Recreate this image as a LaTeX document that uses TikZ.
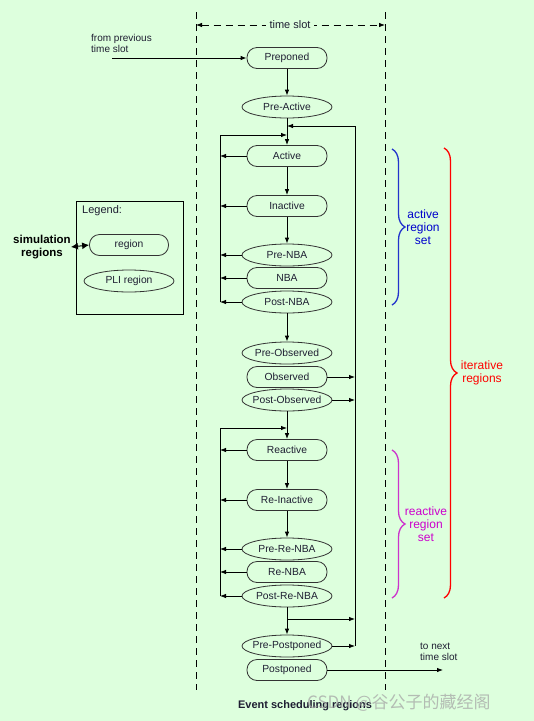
\documentclass[tikz,border=0pt]{standalone}
\usepackage{fontspec}
\setmainfont{Liberation Sans}
\newfontfamily\cjkfont{Noto Sans CJK SC}
\usetikzlibrary{arrows.meta,shapes.geometric,decorations.pathreplacing}
\definecolor{bg}{RGB}{221,255,221}
\definecolor{txt}{RGB}{30,30,50}
\definecolor{bbrace}{RGB}{34,51,204}
\definecolor{btext}{RGB}{0,0,204}
\definecolor{mbrace}{RGB}{204,51,204}
\definecolor{mtext}{RGB}{204,0,204}
\begin{document}
\begin{tikzpicture}[x=1pt,y=-1pt,
  reg/.style={draw=black!80, line width=0.8pt, rectangle, rounded corners=10pt, minimum width=80pt, minimum height=21pt, inner sep=0pt, text=txt, font=\fontsize{10.3}{12}\selectfont},
  pli/.style={draw=black!80, line width=0.8pt, ellipse, minimum width=90pt, minimum height=22pt, inner xsep=-8pt, inner ysep=-2pt, text=txt, font=\fontsize{10.3}{12}\selectfont},
  arr/.style={line width=0.8pt, -{Latex[length=6pt,width=4.5pt]}},
  ln/.style={line width=0.8pt},
  slot/.style={line width=0.8pt, dash pattern=on 7pt off 5pt},
  brc/.style={line width=1.3pt, decorate, decoration={brace, amplitude=13pt}},
  lbl/.style={align=center, font=\fontsize{12}{13}\selectfont, inner sep=0pt}
]
\path[fill=bg] (0,0) rectangle (534,721);
\useasboundingbox (0,0) rectangle (534,721);

% time slot boundaries
\coordinate (tl) at (196,12);
\coordinate (tr) at (385,12);
\coordinate (bl) at (196,690);
\coordinate (br) at (385,690);
\draw[slot] (tl) -- (bl);
\draw[slot] (tr) -- (br);
\coordinate (sl) at (196,25);
\coordinate (sr) at (385,25);
\draw[slot, {Latex[length=6pt,width=4.5pt]}-{Latex[length=6pt,width=4.5pt]}] (sl) -- (sr);
\node[fill=bg, inner xsep=4pt, font=\fontsize{11}{12}\selectfont, text=txt] (ts) at (290,25) {time slot};

% nodes
\node[reg] (prep) at (287,58) {Preponed};
\node[pli] (preact) at (287,107) {Pre-Active};
\node[reg] (act) at (287,156) {Active};
\node[reg] (inact) at (287,206) {Inactive};
\node[pli] (prenba) at (287,255) {Pre-NBA};
\node[reg] (nba) at (287,278) {NBA};
\node[pli] (postnba) at (287,302) {Post-NBA};
\node[pli] (preobs) at (287,353) {Pre-Observed};
\node[reg] (obs) at (287,377) {Observed};
\node[pli] (postobs) at (287,400) {Post-Observed};
\node[reg] (react) at (287,450) {Reactive};
\node[reg] (reinact) at (287,500) {Re-Inactive};
\node[pli] (prerenba) at (287,549) {Pre-Re-NBA};
\node[reg] (renba) at (287,572) {Re-NBA};
\node[pli] (postrenba) at (287,596) {Post-Re-NBA};
\node[pli] (prepost) at (287,646) {Pre-Postponed};
\node[reg] (post) at (287,670) {Postponed};

% from previous / to next
\node[align=left, anchor=north west, inner sep=0pt, font=\fontsize{10}{11}\selectfont, text=txt] (fromtxt) at (91,34) {from previous\\time slot};
\coordinate (from) at (112,58);
\draw[arr] (from) -- (prep.west);
\node[align=left, anchor=north west, inner sep=0pt, font=\fontsize{10}{11}\selectfont, text=txt] (totxt) at (420,643) {to next\\time slot};
\coordinate (next) at (443,670);
\draw[arr] (post.east) -- (next);

% main flow
\draw[arr] (prep.south) -- (preact.north);
\draw[arr] (preact.south) -- (act.north);
\draw[arr] (act.south) -- (inact.north);
\draw[arr] (inact.south) -- (prenba.north);
\draw[arr] (postnba.south) -- (preobs.north);
\draw[arr] (postobs.south) -- (react.north);
\draw[arr] (react.south) -- (reinact.north);
\draw[arr] (reinact.south) -- (prerenba.north);
\draw[arr] (postrenba.south) -- (prepost.north);

% loop coordinates
\coordinate (rloop) at (355,126);
\coordinate (lloop) at (220,135);
\coordinate (lloopb) at (220,428);
\coordinate (branch) at (287,619);

% right loop
\draw[arr] (obs.east) -- (obs.east -| rloop);
\draw[arr] (postobs.east) -- (postobs.east -| rloop);
\draw[arr] (branch) -- (branch -| rloop);
\draw[arr] (prepost.east) -- (prepost.east -| rloop);
\draw[ln, arr] (prepost.east -| rloop) -- (rloop) -- (rloop -| act.north);

% left loop (active set)
\foreach \n in {act,inact,prenba,nba,postnba}
  \draw[arr] (\n.west) -- (\n.west -| lloop);
\draw[arr] (postnba.west -| lloop) -- (lloop) -- (lloop -| act.north);

% left loop (reactive set)
\foreach \n in {react,reinact,prerenba,renba,postrenba}
  \draw[arr] (\n.west) -- (\n.west -| lloopb);
\draw[arr] (postrenba.west -| lloopb) -- (lloopb) -- (lloopb -| react.north);

% legend
\draw[line width=0.9pt] (76,201) rectangle (183,314);
\node[anchor=west, inner sep=0pt, font=\fontsize{11}{12}\selectfont, text=txt] (legt) at (82,211) {Legend:};
\node[reg, minimum width=79pt] (lreg) at (129,245) {region};
\node[pli] (lpli) at (129,281) {PLI region};
\node[align=center, inner sep=0pt, font=\bfseries\fontsize{11.5}{12.5}\selectfont] (sim) at (42,247) {simulation\\regions};
\draw[line width=1pt, {Latex[length=7pt,width=7pt]}-{Latex[length=7pt,width=7pt]}] (sim.east) -- (lreg.west);

% braces
\draw[brc, bbrace] (392,149) -- (392,305);
\node[lbl, text=btext] (actset) at (423,227) {active\\region\\set};
\draw[brc, mbrace] (392,450) -- (392,598);
\node[lbl, text=mtext] (reactset) at (426,524) {reactive\\region\\set};
\draw[brc, red] (444,148) -- (444,598);
\node[lbl, text=red] (iter) at (482,373) {iterative\\regions};

% caption
\node[font=\bfseries\fontsize{11}{12}\selectfont, text=txt] (cap) at (305,706) {Event scheduling regions};
\node[anchor=west, inner sep=0pt, text=gray!70, opacity=0.75, font=\cjkfont\fontsize{17}{18}\selectfont] (wm) at (307,703) {CSDN @谷公子的藏经阁};
\end{tikzpicture}
\end{document}
